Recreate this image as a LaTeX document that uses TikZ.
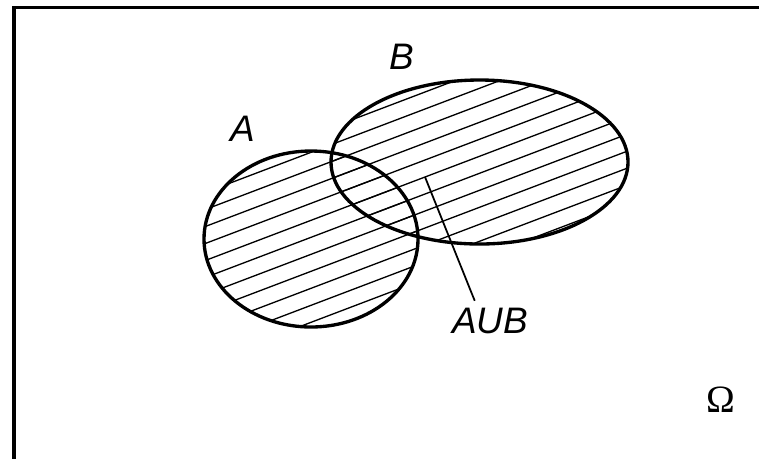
\documentclass[tikz,border=0pt]{standalone}
\usepackage{fontspec}
\setmainfont{Liberation Sans}
\newfontfamily\omegafont{Liberation Serif}
\begin{document}
\begin{tikzpicture}[x=0.02cm, y=-0.02cm,
    rim/.style={line width=1.9pt},
    hatch/.style={line width=0.75pt},
    setlabel/.style={font=\fontsize{21}{24}\selectfont\itshape, inner sep=0pt}
]
    \useasboundingbox (0,0) rectangle (759,458);
    % frame of the sample space
    \draw[rim] (14,7.5) rectangle (800,500);
    % hatching inside A and inside B
    \begin{scope}
        \clip (311,239) ellipse [x radius=107, y radius=88];
        \foreach \k in {-8,...,9}
            \draw[hatch] (190,{338.5+17*\k-0.38*190}) -- (640,{338.5+17*\k-0.38*640});
    \end{scope}
    \begin{scope}
        \clip (479.5,162) ellipse [x radius=148.5, y radius=82];
        \foreach \k in {-8,...,9}
            \draw[hatch] (190,{338.5+17*\k-0.38*190}) -- (640,{338.5+17*\k-0.38*640});
    \end{scope}
    % the two sets
    \draw[rim] (311,239) ellipse [x radius=107, y radius=88];
    \draw[rim] (479.5,162) ellipse [x radius=148.5, y radius=82];

    \node[setlabel] (labA) at (243,129) {A};
    \node[setlabel] (labB) at (402,57) {B};
    \node[setlabel] (labAB) at (490,321) {AUB};
    \node[font=\omegafont\fontsize{22}{26}\selectfont, inner sep=0pt] (omega) at (721,400) {Ω};

    \coordinate (tip) at (425,177);
    \draw[line width=1pt] (tip) -- ([shift={(23,-7)}]labAB.north west);
\end{tikzpicture}
\end{document}
